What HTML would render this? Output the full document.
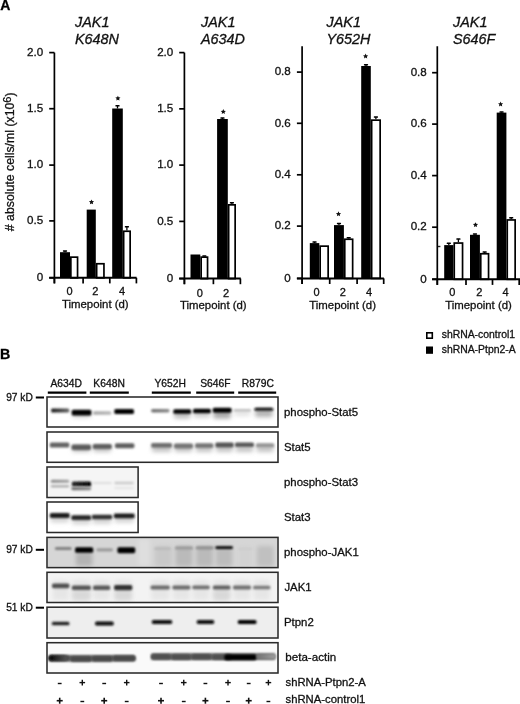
<!DOCTYPE html>
<html><head><meta charset="utf-8"><style>
html,body{margin:0;padding:0;background:#fff;width:520px;height:704px;overflow:hidden}
svg{display:block;font-family:"Liberation Sans", sans-serif;will-change:transform;filter:blur(0.35px)}
</style></head><body>
<svg width="520" height="704" viewBox="0 0 520 704">
<text x="0.3" y="9.9" font-size="14" text-anchor="start" font-weight="bold" fill="#000" stroke="#000" stroke-width="0.3">A</text>
<text x="75" y="27.0" font-size="14.4" text-anchor="start" font-weight="normal" fill="#111" font-style="italic" stroke="#111" stroke-width="0.3">JAK1</text>
<text x="75" y="43.6" font-size="14.4" text-anchor="start" font-weight="normal" fill="#111" font-style="italic" stroke="#111" stroke-width="0.3">K648N</text>
<rect x="60" y="252.2" width="10" height="25.6" fill="#000"/>
<line x1="65" y1="250.9" x2="65" y2="252.2" stroke="#000" stroke-width="1.3"/>
<rect x="62.9" y="250.2" width="4.2" height="1.5" rx="0.5" fill="#000"/>
<rect x="70.85" y="257.15" width="6.7" height="20.65" fill="#fff" stroke="#000" stroke-width="1.7"/>
<rect x="86.7" y="209.6" width="9.1" height="68.2" fill="#000"/>
<rect x="96.65" y="263.75" width="7.3" height="14.05" fill="#fff" stroke="#000" stroke-width="1.7"/>
<rect x="112.2" y="108.5" width="10.6" height="169.3" fill="#000"/>
<line x1="117.5" y1="105.6" x2="117.5" y2="108.5" stroke="#000" stroke-width="1.3"/>
<rect x="115.4" y="104.9" width="4.2" height="1.5" rx="0.5" fill="#000"/>
<rect x="123.65" y="231.25" width="6.5" height="46.55" fill="#fff" stroke="#000" stroke-width="1.7"/>
<line x1="126.9" y1="226.8" x2="126.9" y2="230.4" stroke="#000" stroke-width="1.3"/>
<rect x="124.80000000000001" y="226.1" width="4.2" height="1.5" rx="0.5" fill="#000"/>
<line x1="54.4" y1="52.6" x2="54.4" y2="283.4" stroke="#000" stroke-width="1.7"/>
<line x1="49.2" y1="277.8" x2="136.6" y2="277.8" stroke="#000" stroke-width="2.0"/>
<line x1="49.2" y1="277.8" x2="54.4" y2="277.8" stroke="#000" stroke-width="1.7"/>
<text x="43.2" y="281.0" font-size="11.6" text-anchor="end" font-weight="normal" fill="#111" stroke="#111" stroke-width="0.3">0</text>
<line x1="49.2" y1="220.9" x2="54.4" y2="220.9" stroke="#000" stroke-width="1.7"/>
<text x="43.2" y="224.1" font-size="11.6" text-anchor="end" font-weight="normal" fill="#111" stroke="#111" stroke-width="0.3">0.5</text>
<line x1="49.2" y1="165.1" x2="54.4" y2="165.1" stroke="#000" stroke-width="1.7"/>
<text x="43.2" y="168.29999999999998" font-size="11.6" text-anchor="end" font-weight="normal" fill="#111" stroke="#111" stroke-width="0.3">1.0</text>
<line x1="49.2" y1="108.7" x2="54.4" y2="108.7" stroke="#000" stroke-width="1.7"/>
<text x="43.2" y="111.9" font-size="11.6" text-anchor="end" font-weight="normal" fill="#111" stroke="#111" stroke-width="0.3">1.5</text>
<line x1="49.2" y1="52.6" x2="54.4" y2="52.6" stroke="#000" stroke-width="1.7"/>
<text x="43.2" y="55.800000000000004" font-size="11.6" text-anchor="end" font-weight="normal" fill="#111" stroke="#111" stroke-width="0.3">2.0</text>
<line x1="54.4" y1="277.8" x2="54.4" y2="283.4" stroke="#000" stroke-width="1.7"/>
<line x1="83.1" y1="277.8" x2="83.1" y2="283.4" stroke="#000" stroke-width="1.7"/>
<line x1="109.8" y1="277.8" x2="109.8" y2="283.4" stroke="#000" stroke-width="1.7"/>
<line x1="136.4" y1="277.8" x2="136.4" y2="283.4" stroke="#000" stroke-width="1.7"/>
<text x="69.6" y="295.1" font-size="11" text-anchor="middle" font-weight="normal" fill="#111" stroke="#111" stroke-width="0.3">0</text>
<text x="95.4" y="295.1" font-size="11" text-anchor="middle" font-weight="normal" fill="#111" stroke="#111" stroke-width="0.3">2</text>
<text x="122" y="295.1" font-size="11" text-anchor="middle" font-weight="normal" fill="#111" stroke="#111" stroke-width="0.3">4</text>
<text x="95.3" y="307.8" font-size="11.4" text-anchor="middle" font-weight="normal" fill="#111" stroke="#111" stroke-width="0.3">Timepoint (d)</text>
<polygon points="91.50,199.40 92.26,201.05 94.07,201.27 92.74,202.50 93.09,204.28 91.50,203.40 89.91,204.28 90.26,202.50 88.93,201.27 90.74,201.05" fill="#111"/>
<polygon points="117.90,95.70 118.66,97.35 120.47,97.57 119.14,98.80 119.49,100.58 117.90,99.70 116.31,100.58 116.66,98.80 115.33,97.57 117.14,97.35" fill="#111"/>
<text x="201" y="27.0" font-size="14.4" text-anchor="start" font-weight="normal" fill="#111" font-style="italic" stroke="#111" stroke-width="0.3">JAK1</text>
<text x="201" y="43.6" font-size="14.4" text-anchor="start" font-weight="normal" fill="#111" font-style="italic" stroke="#111" stroke-width="0.3">A634D</text>
<rect x="190.5" y="254.5" width="9.8" height="24.1" fill="#000"/>
<rect x="201.15" y="257.15" width="6.4" height="21.45" fill="#fff" stroke="#000" stroke-width="1.7"/>
<line x1="204.35" y1="255.9" x2="204.35" y2="256.3" stroke="#000" stroke-width="1.3"/>
<rect x="202.25000000000003" y="255.2" width="4.2" height="1.5" rx="0.5" fill="#000"/>
<rect x="217.1" y="119" width="10.7" height="159.6" fill="#000"/>
<line x1="222.45" y1="118" x2="222.45" y2="119" stroke="#000" stroke-width="1.3"/>
<rect x="220.35" y="117.3" width="4.2" height="1.5" rx="0.5" fill="#000"/>
<rect x="228.65" y="204.85" width="6.5" height="73.75" fill="#fff" stroke="#000" stroke-width="1.7"/>
<line x1="231.9" y1="202.7" x2="231.9" y2="204" stroke="#000" stroke-width="1.3"/>
<rect x="229.8" y="202" width="4.2" height="1.5" rx="0.5" fill="#000"/>
<line x1="184.4" y1="52.6" x2="184.4" y2="284.2" stroke="#000" stroke-width="1.7"/>
<line x1="179.2" y1="278.6" x2="240.8" y2="278.6" stroke="#000" stroke-width="2.0"/>
<line x1="179.2" y1="278.6" x2="184.4" y2="278.6" stroke="#000" stroke-width="1.7"/>
<text x="173.3" y="281.8" font-size="11.6" text-anchor="end" font-weight="normal" fill="#111" stroke="#111" stroke-width="0.3">0</text>
<line x1="179.2" y1="221.4" x2="184.4" y2="221.4" stroke="#000" stroke-width="1.7"/>
<text x="173.3" y="224.6" font-size="11.6" text-anchor="end" font-weight="normal" fill="#111" stroke="#111" stroke-width="0.3">0.5</text>
<line x1="179.2" y1="165.1" x2="184.4" y2="165.1" stroke="#000" stroke-width="1.7"/>
<text x="173.3" y="168.29999999999998" font-size="11.6" text-anchor="end" font-weight="normal" fill="#111" stroke="#111" stroke-width="0.3">1.0</text>
<line x1="179.2" y1="108.85" x2="184.4" y2="108.85" stroke="#000" stroke-width="1.7"/>
<text x="173.3" y="112.05" font-size="11.6" text-anchor="end" font-weight="normal" fill="#111" stroke="#111" stroke-width="0.3">1.5</text>
<line x1="179.2" y1="52.6" x2="184.4" y2="52.6" stroke="#000" stroke-width="1.7"/>
<text x="173.3" y="55.800000000000004" font-size="11.6" text-anchor="end" font-weight="normal" fill="#111" stroke="#111" stroke-width="0.3">2.0</text>
<line x1="184.4" y1="278.6" x2="184.4" y2="284.2" stroke="#000" stroke-width="1.7"/>
<line x1="213.4" y1="278.6" x2="213.4" y2="284.2" stroke="#000" stroke-width="1.7"/>
<line x1="240.4" y1="278.6" x2="240.4" y2="284.2" stroke="#000" stroke-width="1.7"/>
<text x="199.9" y="296.5" font-size="11" text-anchor="middle" font-weight="normal" fill="#111" stroke="#111" stroke-width="0.3">0</text>
<text x="226.1" y="296.5" font-size="11" text-anchor="middle" font-weight="normal" fill="#111" stroke="#111" stroke-width="0.3">2</text>
<text x="213.3" y="309.3" font-size="11.4" text-anchor="middle" font-weight="normal" fill="#111" stroke="#111" stroke-width="0.3">Timepoint (d)</text>
<polygon points="223.30,109.10 224.06,110.75 225.87,110.97 224.54,112.20 224.89,113.98 223.30,113.10 221.71,113.98 222.06,112.20 220.73,110.97 222.54,110.75" fill="#111"/>
<text x="326.5" y="27.0" font-size="14.4" text-anchor="start" font-weight="normal" fill="#111" font-style="italic" stroke="#111" stroke-width="0.3">JAK1</text>
<text x="326.5" y="43.6" font-size="14.4" text-anchor="start" font-weight="normal" fill="#111" font-style="italic" stroke="#111" stroke-width="0.3">Y652H</text>
<rect x="309.8" y="243.1" width="9.5" height="35.3" fill="#000"/>
<line x1="314.55" y1="241.9" x2="314.55" y2="243.1" stroke="#000" stroke-width="1.3"/>
<rect x="312.45" y="241.2" width="4.2" height="1.5" rx="0.5" fill="#000"/>
<rect x="320.15" y="246.15" width="8" height="32.25" fill="#fff" stroke="#000" stroke-width="1.7"/>
<rect x="334" y="225.1" width="9.9" height="53.3" fill="#000"/>
<line x1="338.95" y1="223.5" x2="338.95" y2="225.1" stroke="#000" stroke-width="1.3"/>
<rect x="336.84999999999997" y="222.8" width="4.2" height="1.5" rx="0.5" fill="#000"/>
<rect x="344.75" y="239.25" width="7.9" height="39.15" fill="#fff" stroke="#000" stroke-width="1.7"/>
<line x1="348.7" y1="237.7" x2="348.7" y2="238.4" stroke="#000" stroke-width="1.3"/>
<rect x="346.59999999999997" y="237" width="4.2" height="1.5" rx="0.5" fill="#000"/>
<rect x="361.2" y="66" width="9.6" height="212.4" fill="#000"/>
<line x1="366" y1="64.7" x2="366" y2="66" stroke="#000" stroke-width="1.3"/>
<rect x="363.9" y="64" width="4.2" height="1.5" rx="0.5" fill="#000"/>
<rect x="371.65" y="120.15" width="8.5" height="158.25" fill="#fff" stroke="#000" stroke-width="1.7"/>
<line x1="375.9" y1="116.9" x2="375.9" y2="119.3" stroke="#000" stroke-width="1.3"/>
<rect x="373.79999999999995" y="116.2" width="4.2" height="1.5" rx="0.5" fill="#000"/>
<line x1="302.1" y1="46.2" x2="302.1" y2="284" stroke="#000" stroke-width="1.7"/>
<line x1="296.9" y1="278.4" x2="383.9" y2="278.4" stroke="#000" stroke-width="2.0"/>
<line x1="296.9" y1="278.4" x2="302.1" y2="278.4" stroke="#000" stroke-width="1.7"/>
<text x="290.8" y="281.59999999999997" font-size="11.6" text-anchor="end" font-weight="normal" fill="#111" stroke="#111" stroke-width="0.3">0</text>
<line x1="296.9" y1="226.1" x2="302.1" y2="226.1" stroke="#000" stroke-width="1.7"/>
<text x="290.8" y="229.29999999999998" font-size="11.6" text-anchor="end" font-weight="normal" fill="#111" stroke="#111" stroke-width="0.3">0.2</text>
<line x1="296.9" y1="174.8" x2="302.1" y2="174.8" stroke="#000" stroke-width="1.7"/>
<text x="290.8" y="178.0" font-size="11.6" text-anchor="end" font-weight="normal" fill="#111" stroke="#111" stroke-width="0.3">0.4</text>
<line x1="296.9" y1="123.3" x2="302.1" y2="123.3" stroke="#000" stroke-width="1.7"/>
<text x="290.8" y="126.5" font-size="11.6" text-anchor="end" font-weight="normal" fill="#111" stroke="#111" stroke-width="0.3">0.6</text>
<line x1="296.9" y1="72.1" x2="302.1" y2="72.1" stroke="#000" stroke-width="1.7"/>
<text x="290.8" y="75.3" font-size="11.6" text-anchor="end" font-weight="normal" fill="#111" stroke="#111" stroke-width="0.3">0.8</text>
<line x1="302.1" y1="278.4" x2="302.1" y2="284" stroke="#000" stroke-width="1.7"/>
<line x1="329.7" y1="278.4" x2="329.7" y2="284" stroke="#000" stroke-width="1.7"/>
<line x1="357.1" y1="278.4" x2="357.1" y2="284" stroke="#000" stroke-width="1.7"/>
<line x1="383.7" y1="278.4" x2="383.7" y2="284" stroke="#000" stroke-width="1.7"/>
<text x="316.6" y="295.8" font-size="11" text-anchor="middle" font-weight="normal" fill="#111" stroke="#111" stroke-width="0.3">0</text>
<text x="342.9" y="295.8" font-size="11" text-anchor="middle" font-weight="normal" fill="#111" stroke="#111" stroke-width="0.3">2</text>
<text x="369" y="295.8" font-size="11" text-anchor="middle" font-weight="normal" fill="#111" stroke="#111" stroke-width="0.3">4</text>
<text x="342.6" y="308.6" font-size="11.4" text-anchor="middle" font-weight="normal" fill="#111" stroke="#111" stroke-width="0.3">Timepoint (d)</text>
<polygon points="338.50,211.30 339.26,212.95 341.07,213.17 339.74,214.40 340.09,216.18 338.50,215.30 336.91,216.18 337.26,214.40 335.93,213.17 337.74,212.95" fill="#111"/>
<polygon points="365.60,53.60 366.36,55.25 368.17,55.47 366.84,56.70 367.19,58.48 365.60,57.60 364.01,58.48 364.36,56.70 363.03,55.47 364.84,55.25" fill="#111"/>
<text x="453" y="27.0" font-size="14.4" text-anchor="start" font-weight="normal" fill="#111" font-style="italic" stroke="#111" stroke-width="0.3">JAK1</text>
<text x="453" y="43.6" font-size="14.4" text-anchor="start" font-weight="normal" fill="#111" font-style="italic" stroke="#111" stroke-width="0.3">S646F</text>
<rect x="444.2" y="245.1" width="9.2" height="34.2" fill="#000"/>
<line x1="448.8" y1="243.3" x2="448.8" y2="245.1" stroke="#000" stroke-width="1.3"/>
<rect x="446.69999999999993" y="242.6" width="4.2" height="1.5" rx="0.5" fill="#000"/>
<rect x="454.25" y="243.05" width="8.3" height="36.25" fill="#fff" stroke="#000" stroke-width="1.7"/>
<line x1="458.4" y1="239" x2="458.4" y2="242.2" stroke="#000" stroke-width="1.3"/>
<rect x="456.29999999999995" y="238.3" width="4.2" height="1.5" rx="0.5" fill="#000"/>
<rect x="470" y="234.8" width="9.9" height="44.5" fill="#000"/>
<line x1="474.95" y1="233.9" x2="474.95" y2="234.8" stroke="#000" stroke-width="1.3"/>
<rect x="472.84999999999997" y="233.2" width="4.2" height="1.5" rx="0.5" fill="#000"/>
<rect x="480.75" y="253.75" width="7.8" height="25.55" fill="#fff" stroke="#000" stroke-width="1.7"/>
<line x1="484.65" y1="251.9" x2="484.65" y2="252.9" stroke="#000" stroke-width="1.3"/>
<rect x="482.54999999999995" y="251.2" width="4.2" height="1.5" rx="0.5" fill="#000"/>
<rect x="496.7" y="112.6" width="9.7" height="166.7" fill="#000"/>
<line x1="501.55" y1="111.9" x2="501.55" y2="112.6" stroke="#000" stroke-width="1.3"/>
<rect x="499.44999999999993" y="111.2" width="4.2" height="1.5" rx="0.5" fill="#000"/>
<rect x="507.25" y="219.95" width="7.9" height="59.35" fill="#fff" stroke="#000" stroke-width="1.7"/>
<line x1="511.2" y1="217.8" x2="511.2" y2="219.1" stroke="#000" stroke-width="1.3"/>
<rect x="509.09999999999997" y="217.1" width="4.2" height="1.5" rx="0.5" fill="#000"/>
<line x1="437.3" y1="46.25" x2="437.3" y2="284.9" stroke="#000" stroke-width="1.7"/>
<line x1="432.1" y1="279.3" x2="520" y2="279.3" stroke="#000" stroke-width="2.0"/>
<line x1="432.1" y1="279.3" x2="437.3" y2="279.3" stroke="#000" stroke-width="1.7"/>
<text x="426.8" y="282.5" font-size="11.6" text-anchor="end" font-weight="normal" fill="#111" stroke="#111" stroke-width="0.3">0</text>
<line x1="432.1" y1="227.2" x2="437.3" y2="227.2" stroke="#000" stroke-width="1.7"/>
<text x="426.8" y="230.39999999999998" font-size="11.6" text-anchor="end" font-weight="normal" fill="#111" stroke="#111" stroke-width="0.3">0.2</text>
<line x1="432.1" y1="175.6" x2="437.3" y2="175.6" stroke="#000" stroke-width="1.7"/>
<text x="426.8" y="178.79999999999998" font-size="11.6" text-anchor="end" font-weight="normal" fill="#111" stroke="#111" stroke-width="0.3">0.4</text>
<line x1="432.1" y1="124.1" x2="437.3" y2="124.1" stroke="#000" stroke-width="1.7"/>
<text x="426.8" y="127.3" font-size="11.6" text-anchor="end" font-weight="normal" fill="#111" stroke="#111" stroke-width="0.3">0.6</text>
<line x1="432.1" y1="72.7" x2="437.3" y2="72.7" stroke="#000" stroke-width="1.7"/>
<text x="426.8" y="75.9" font-size="11.6" text-anchor="end" font-weight="normal" fill="#111" stroke="#111" stroke-width="0.3">0.8</text>
<line x1="437.3" y1="279.3" x2="437.3" y2="284.9" stroke="#000" stroke-width="1.7"/>
<line x1="466" y1="279.3" x2="466" y2="284.9" stroke="#000" stroke-width="1.7"/>
<line x1="492.5" y1="279.3" x2="492.5" y2="284.9" stroke="#000" stroke-width="1.7"/>
<line x1="519.2" y1="279.3" x2="519.2" y2="284.9" stroke="#000" stroke-width="1.7"/>
<text x="452.3" y="296.0" font-size="11" text-anchor="middle" font-weight="normal" fill="#111" stroke="#111" stroke-width="0.3">0</text>
<text x="479.2" y="296.0" font-size="11" text-anchor="middle" font-weight="normal" fill="#111" stroke="#111" stroke-width="0.3">2</text>
<text x="505.5" y="296.0" font-size="11" text-anchor="middle" font-weight="normal" fill="#111" stroke="#111" stroke-width="0.3">4</text>
<text x="478.5" y="309.1" font-size="11.4" text-anchor="middle" font-weight="normal" fill="#111" stroke="#111" stroke-width="0.3">Timepoint (d)</text>
<polygon points="475.50,222.20 476.26,223.85 478.07,224.07 476.74,225.30 477.09,227.08 475.50,226.20 473.91,227.08 474.26,225.30 472.93,224.07 474.74,223.85" fill="#111"/>
<polygon points="500.60,101.50 501.36,103.15 503.17,103.37 501.84,104.60 502.19,106.38 500.60,105.50 499.01,106.38 499.36,104.60 498.03,103.37 499.84,103.15" fill="#111"/>
<text transform="translate(13.7,161.8) rotate(-90)" font-size="12.3" text-anchor="middle" fill="#111" stroke="#111" stroke-width="0.3"># absolute cells/ml (x10<tspan font-size="11" dy="-3.2">6</tspan><tspan dy="3.2">)</tspan></text>
<line x1="438" y1="246.5" x2="440.4" y2="246.5" stroke="#222" stroke-width="1.4"/>
<rect x="426.8" y="332.8" width="5.5" height="5.4" fill="#fff" stroke="#000" stroke-width="1.6"/>
<rect x="426" y="346.5" width="7" height="7.3" fill="#000"/>
<text x="441.7" y="338.1" font-size="10.4" text-anchor="start" font-weight="normal" fill="#111" stroke="#111" stroke-width="0.3">shRNA-control1</text>
<text x="441.7" y="352.7" font-size="10.4" text-anchor="start" font-weight="normal" fill="#111" stroke="#111" stroke-width="0.3">shRNA-Ptpn2-A</text>
<text x="0.0" y="358.6" font-size="14.3" text-anchor="start" font-weight="bold" fill="#000" stroke="#000" stroke-width="0.3">B</text>
<text x="66.2" y="386.5" font-size="10.3" text-anchor="middle" font-weight="normal" fill="#111" stroke="#111" stroke-width="0.3">A634D</text>
<line x1="47.8" y1="392.6" x2="86.4" y2="392.6" stroke="#000" stroke-width="2.2"/>
<text x="109.1" y="386.5" font-size="10.3" text-anchor="middle" font-weight="normal" fill="#111" stroke="#111" stroke-width="0.3">K648N</text>
<line x1="89.8" y1="392.6" x2="128.8" y2="392.6" stroke="#000" stroke-width="2.2"/>
<text x="170.2" y="386.5" font-size="10.3" text-anchor="middle" font-weight="normal" fill="#111" stroke="#111" stroke-width="0.3">Y652H</text>
<line x1="151.8" y1="392.6" x2="190.8" y2="392.6" stroke="#000" stroke-width="2.2"/>
<text x="215.3" y="386.5" font-size="10.3" text-anchor="middle" font-weight="normal" fill="#111" stroke="#111" stroke-width="0.3">S646F</text>
<line x1="196.2" y1="392.6" x2="234.2" y2="392.6" stroke="#000" stroke-width="2.2"/>
<text x="257.8" y="386.5" font-size="10.3" text-anchor="middle" font-weight="normal" fill="#111" stroke="#111" stroke-width="0.3">R879C</text>
<line x1="238.2" y1="392.6" x2="276.2" y2="392.6" stroke="#000" stroke-width="2.2"/>
<text x="32.8" y="401.1" font-size="10.2" text-anchor="end" font-weight="normal" fill="#111" stroke="#111" stroke-width="0.3">97 kD</text>
<line x1="35.8" y1="397.5" x2="44" y2="397.5" stroke="#000" stroke-width="2"/>
<text x="32.8" y="553.4" font-size="10.2" text-anchor="end" font-weight="normal" fill="#111" stroke="#111" stroke-width="0.3">97 kD</text>
<line x1="35.8" y1="549.8" x2="44" y2="549.8" stroke="#000" stroke-width="2"/>
<text x="32.8" y="611.3000000000001" font-size="10.2" text-anchor="end" font-weight="normal" fill="#111" stroke="#111" stroke-width="0.3">51 kD</text>
<line x1="35.8" y1="607.7" x2="44" y2="607.7" stroke="#000" stroke-width="2"/>
<defs><filter id="b1" x="-30%" y="-100%" width="160%" height="300%"><feGaussianBlur stdDeviation="1.3 1.0"/></filter><filter id="b2" x="-30%" y="-100%" width="160%" height="300%"><feGaussianBlur stdDeviation="2"/></filter><filter id="b3" x="-30%" y="-100%" width="160%" height="300%"><feGaussianBlur stdDeviation="3"/></filter></defs>
<rect x="47.7" y="397.7" width="229.6" height="28.6" fill="#fff"/>
<rect x="47.7" y="432.7" width="229.6" height="28.9" fill="#fff"/>
<rect x="47.7" y="467.7" width="89.7" height="29.1" fill="#f5f5f5"/>
<rect x="47.7" y="502.7" width="89.7" height="29.1" fill="#fff"/>
<rect x="47.7" y="538.1" width="229.6" height="28.8" fill="#d6d6d6"/>
<rect x="47.7" y="573" width="229.6" height="28.8" fill="#f3f3f3"/>
<rect x="47.7" y="607.9" width="229.6" height="29.4" fill="#eeeeee"/>
<rect x="47.7" y="643.4" width="229.6" height="28.9" fill="#fafafa"/>
<rect x="72.4" y="412" width="18.299999999999997" height="6" rx="2" fill="#d8d8d8" filter="url(#b2)"/>
<rect x="174" y="412" width="16.5" height="6.5" rx="2" fill="#bdbdbd" filter="url(#b2)"/>
<rect x="193.7" y="412" width="16.5" height="5.5" rx="2" fill="#cfcfcf" filter="url(#b2)"/>
<rect x="213.4" y="411" width="17.5" height="7.5" rx="2" fill="#a8a8a8" filter="url(#b2)"/>
<rect x="234.2" y="411" width="16.200000000000017" height="5" rx="2" fill="#e2e2e2" filter="url(#b2)"/>
<rect x="255.1" y="409.5" width="17.50000000000003" height="7.5" rx="2" fill="#b3b3b3" filter="url(#b2)"/>
<linearGradient id="g1" x1="0" x2="1" y1="0" y2="0"><stop offset="0" stop-color="#1a1a1a"/><stop offset="1" stop-color="#666"/></linearGradient>
<rect x="51.10" y="408.50" width="18.20" height="4.0" rx="1.6" fill="url(#g1)" opacity="1" filter="url(#b1)"/>
<rect x="71.70" y="409.70" width="19.70" height="5.8" rx="1.6" fill="#000" opacity="1" filter="url(#b1)"/>
<linearGradient id="g2" x1="0" x2="1" y1="0" y2="0"><stop offset="0" stop-color="#a8a8a8"/><stop offset="1" stop-color="#b8b8b8"/></linearGradient>
<rect x="93.10" y="411.20" width="18.30" height="3.6" rx="1.6" fill="url(#g2)" opacity="1" filter="url(#b1)"/>
<rect x="114.30" y="408.90" width="19.70" height="5.2" rx="1.6" fill="#000" opacity="1" filter="url(#b1)"/>
<linearGradient id="g3" x1="0" x2="1" y1="0" y2="0"><stop offset="0" stop-color="#707070"/><stop offset="1" stop-color="#8a8a8a"/></linearGradient>
<rect x="151.10" y="409.00" width="18.50" height="3.4" rx="1.6" fill="url(#g3)" opacity="1" filter="url(#b1)"/>
<rect x="173.30" y="409.20" width="17.90" height="4.6" rx="1.6" fill="#000" opacity="1" filter="url(#b1)"/>
<rect x="193.00" y="408.70" width="17.90" height="4.6" rx="1.6" fill="#000" opacity="1" filter="url(#b1)"/>
<rect x="212.70" y="407.70" width="18.90" height="5" rx="1.6" fill="#000" opacity="1" filter="url(#b1)"/>
<rect x="233.50" y="409.20" width="17.60" height="2.4" rx="1.2" fill="#b8b8b8" opacity="1" filter="url(#b1)"/>
<rect x="254.40" y="407.70" width="18.90" height="3" rx="1.5" fill="#0a0a0a" opacity="1" filter="url(#b1)"/>
<rect x="72.2" y="446" width="18.099999999999994" height="6" rx="2" fill="#c4c4c4" filter="url(#b2)"/>
<rect x="93.4" y="446" width="17.69999999999999" height="6" rx="2" fill="#c4c4c4" filter="url(#b2)"/>
<rect x="174.6" y="446" width="17.80000000000001" height="6" rx="2" fill="#c4c4c4" filter="url(#b2)"/>
<rect x="195.7" y="446" width="17.0" height="6" rx="2" fill="#c4c4c4" filter="url(#b2)"/>
<rect x="216" y="446" width="17" height="6" rx="2" fill="#c4c4c4" filter="url(#b2)"/>
<rect x="235.6" y="446" width="17.700000000000017" height="6" rx="2" fill="#c4c4c4" filter="url(#b2)"/>
<rect x="151.8" y="446" width="19.599999999999994" height="6" rx="2" fill="#c4c4c4" filter="url(#b2)"/>
<rect x="256.6" y="446" width="17.0" height="6" rx="2" fill="#c4c4c4" filter="url(#b2)"/>
<rect x="49.80" y="442.50" width="19.50" height="5" rx="1.6" fill="#626262" opacity="1" filter="url(#b1)"/>
<rect x="71.50" y="444.50" width="19.50" height="5.4" rx="1.6" fill="#5a5a5a" opacity="1" filter="url(#b1)"/>
<rect x="92.70" y="443.90" width="19.10" height="5.2" rx="1.6" fill="#5e5e5e" opacity="1" filter="url(#b1)"/>
<rect x="114.90" y="443.20" width="19.50" height="5" rx="1.6" fill="#5e5e5e" opacity="1" filter="url(#b1)"/>
<rect x="151.10" y="443.10" width="21.00" height="4.6" rx="1.6" fill="#6e6e6e" opacity="1" filter="url(#b1)"/>
<rect x="173.90" y="443.60" width="19.20" height="4.8" rx="1.6" fill="#747474" opacity="1" filter="url(#b1)"/>
<rect x="195.00" y="443.30" width="18.40" height="4.6" rx="1.6" fill="#767676" opacity="1" filter="url(#b1)"/>
<rect x="215.30" y="442.60" width="18.40" height="4.8" rx="1.6" fill="#555" opacity="1" filter="url(#b1)"/>
<rect x="234.90" y="442.60" width="19.10" height="4.4" rx="1.6" fill="#585858" opacity="1" filter="url(#b1)"/>
<rect x="255.90" y="443.30" width="18.40" height="4.2" rx="1.6" fill="#959595" opacity="1" filter="url(#b1)"/>
<linearGradient id="g4" x1="0" x2="1" y1="0" y2="0"><stop offset="0" stop-color="#8a8a8a"/><stop offset="1" stop-color="#a4a4a4"/></linearGradient>
<rect x="50.80" y="479.70" width="18.40" height="3" rx="1.5" fill="url(#g4)" opacity="1" filter="url(#b1)"/>
<rect x="50.80" y="484.90" width="18.40" height="2.6" rx="1.3" fill="#b0b0b0" opacity="1" filter="url(#b1)"/>
<linearGradient id="g5" x1="0" x2="1" y1="0" y2="0"><stop offset="0" stop-color="#2a2a2a"/><stop offset="1" stop-color="#000"/></linearGradient>
<rect x="71.80" y="481.50" width="19.40" height="5.0" rx="1.6" fill="url(#g5)" opacity="1" filter="url(#b1)"/>
<linearGradient id="g6" x1="0" x2="1" y1="0" y2="0"><stop offset="0" stop-color="#6e6e6e"/><stop offset="1" stop-color="#8a8a8a"/></linearGradient>
<rect x="71.30" y="487.00" width="19.90" height="3.2" rx="1.6" fill="url(#g6)" opacity="1" filter="url(#b1)"/>
<rect x="92.30" y="481.90" width="19.40" height="2.2" rx="1.1" fill="#dedede" opacity="1" filter="url(#b1)"/>
<rect x="114.30" y="481.70" width="19.40" height="2.6" rx="1.3" fill="#cacaca" opacity="1" filter="url(#b1)"/>
<rect x="114.30" y="487.00" width="19.40" height="2" rx="1.0" fill="#e4e4e4" opacity="1" filter="url(#b1)"/>
<rect x="50.5" y="515.5" width="18.5" height="7.0" rx="2" fill="#d6d6d6" filter="url(#b2)"/>
<rect x="72" y="517.6" width="18.5" height="7.0" rx="2" fill="#d6d6d6" filter="url(#b2)"/>
<rect x="92.5" y="517" width="19.0" height="7" rx="2" fill="#d6d6d6" filter="url(#b2)"/>
<rect x="114.5" y="515.8" width="19.5" height="7.0" rx="2" fill="#d6d6d6" filter="url(#b2)"/>
<rect x="49.80" y="513.10" width="19.90" height="4.8" rx="1.6" fill="#1e1e1e" opacity="1" filter="url(#b1)"/>
<rect x="71.30" y="515.30" width="19.90" height="4.6" rx="1.6" fill="#262626" opacity="1" filter="url(#b1)"/>
<rect x="91.80" y="514.80" width="20.40" height="4.4" rx="1.6" fill="#2e2e2e" opacity="1" filter="url(#b1)"/>
<rect x="113.80" y="513.40" width="20.90" height="4.8" rx="1.6" fill="#1e1e1e" opacity="1" filter="url(#b1)"/>
<rect x="138" y="539" width="12" height="27" rx="2" fill="#dedede" filter="url(#b2)"/>
<rect x="75.8" y="552" width="16.700000000000003" height="14" rx="2" fill="#b4b4b4" filter="url(#b2)"/>
<rect x="155" y="546" width="16.80000000000001" height="20.5" rx="2" fill="#c8c8c8" filter="url(#b2)"/>
<rect x="175.6" y="546" width="16.80000000000001" height="20.5" rx="2" fill="#bababa" filter="url(#b2)"/>
<rect x="196.3" y="546" width="16.69999999999999" height="20.5" rx="2" fill="#bababa" filter="url(#b2)"/>
<rect x="216" y="546" width="16.30000000000001" height="20.5" rx="2" fill="#bcbcbc" filter="url(#b2)"/>
<rect x="238.8" y="546" width="12.899999999999977" height="20.5" rx="2" fill="#d2d2d2" filter="url(#b2)"/>
<rect x="256.8" y="546" width="16.80000000000001" height="20.5" rx="2" fill="#c0c0c0" filter="url(#b2)"/>
<rect x="54.90" y="547.00" width="16.80" height="3" rx="1.5" fill="#808080" opacity="1" filter="url(#b1)"/>
<rect x="75.10" y="547.20" width="18.10" height="5.6" rx="1.6" fill="#000" opacity="1" filter="url(#b1)"/>
<rect x="96.30" y="548.20" width="16.70" height="3.2" rx="1.6" fill="#9a9a9a" opacity="1" filter="url(#b1)"/>
<rect x="117.40" y="547.20" width="17.80" height="6" rx="1.6" fill="#000" opacity="1" filter="url(#b1)"/>
<rect x="154.30" y="547.40" width="16.40" height="2.4" rx="1.2" fill="#b8b8b8" opacity="1" filter="url(#b1)"/>
<rect x="174.90" y="546.50" width="18.20" height="3" rx="1.5" fill="#9a9a9a" opacity="1" filter="url(#b1)"/>
<rect x="195.60" y="546.20" width="18.10" height="3.2" rx="1.6" fill="#929292" opacity="1" filter="url(#b1)"/>
<rect x="215.30" y="546.20" width="17.70" height="2.8" rx="1.4" fill="#000" opacity="1" filter="url(#b1)"/>
<rect x="238.10" y="548.00" width="14.30" height="2" rx="1.0" fill="#cccccc" opacity="1" filter="url(#b1)"/>
<rect x="52.7" y="580" width="16.0" height="20" rx="2" fill="#e6e6e6" filter="url(#b2)"/>
<rect x="72.5" y="580" width="17.700000000000003" height="20" rx="2" fill="#e6e6e6" filter="url(#b2)"/>
<rect x="93.7" y="580" width="15.799999999999997" height="20" rx="2" fill="#e6e6e6" filter="url(#b2)"/>
<rect x="114.8" y="580" width="16.799999999999997" height="20" rx="2" fill="#e6e6e6" filter="url(#b2)"/>
<rect x="151.2" y="580" width="18.0" height="20" rx="2" fill="#e6e6e6" filter="url(#b2)"/>
<rect x="173" y="580" width="16.80000000000001" height="20" rx="2" fill="#e6e6e6" filter="url(#b2)"/>
<rect x="192.9" y="580" width="16.19999999999999" height="20" rx="2" fill="#e6e6e6" filter="url(#b2)"/>
<rect x="213.5" y="580" width="16.30000000000001" height="20" rx="2" fill="#e6e6e6" filter="url(#b2)"/>
<rect x="233.6" y="580" width="16.80000000000001" height="20" rx="2" fill="#e6e6e6" filter="url(#b2)"/>
<rect x="253.7" y="580" width="16.0" height="20" rx="2" fill="#e6e6e6" filter="url(#b2)"/>
<rect x="72.5" y="590" width="17.700000000000003" height="10" rx="2" fill="#d8d8d8" filter="url(#b2)"/>
<rect x="114.8" y="590" width="16.799999999999997" height="10" rx="2" fill="#d8d8d8" filter="url(#b2)"/>
<rect x="213.5" y="590" width="16.30000000000001" height="10" rx="2" fill="#d8d8d8" filter="url(#b2)"/>
<rect x="52.00" y="583.60" width="17.40" height="4.6" rx="1.6" fill="#505050" opacity="1" filter="url(#b1)"/>
<rect x="71.80" y="585.50" width="19.10" height="4.6" rx="1.6" fill="#555" opacity="1" filter="url(#b1)"/>
<rect x="93.00" y="585.50" width="17.20" height="4.6" rx="1.6" fill="#585858" opacity="1" filter="url(#b1)"/>
<rect x="114.10" y="585.00" width="18.20" height="5.2" rx="1.6" fill="#333" opacity="1" filter="url(#b1)"/>
<rect x="150.50" y="585.60" width="19.40" height="3.8" rx="1.6" fill="#6a6a6a" opacity="1" filter="url(#b1)"/>
<rect x="172.30" y="585.60" width="18.20" height="3.8" rx="1.6" fill="#6a6a6a" opacity="1" filter="url(#b1)"/>
<rect x="192.20" y="585.40" width="17.60" height="3.8" rx="1.6" fill="#6e6e6e" opacity="1" filter="url(#b1)"/>
<rect x="212.80" y="585.50" width="17.70" height="4" rx="1.6" fill="#606060" opacity="1" filter="url(#b1)"/>
<rect x="232.90" y="585.60" width="18.20" height="3.8" rx="1.6" fill="#6e6e6e" opacity="1" filter="url(#b1)"/>
<rect x="253.00" y="585.70" width="17.40" height="3.6" rx="1.6" fill="#7a7a7a" opacity="1" filter="url(#b1)"/>
<rect x="51.80" y="621.70" width="17.70" height="3.6" rx="1.6" fill="#222" opacity="1" filter="url(#b1)"/>
<rect x="95.10" y="621.50" width="18.60" height="4" rx="1.6" fill="#080808" opacity="1" filter="url(#b1)"/>
<rect x="151.80" y="620.10" width="20.40" height="3.8" rx="1.6" fill="#080808" opacity="1" filter="url(#b1)"/>
<rect x="196.70" y="620.10" width="17.50" height="3.8" rx="1.6" fill="#080808" opacity="1" filter="url(#b1)"/>
<rect x="237.80" y="620.00" width="18.70" height="4" rx="1.6" fill="#000" opacity="1" filter="url(#b1)"/>
<rect x="48.80" y="654.90" width="86.70" height="6.6" rx="2" fill="#6a6a6a" opacity="1" filter="url(#b1)"/>
<rect x="48.80" y="655.40" width="20.90" height="5.6" rx="2.5" fill="#4a4a4a" opacity="1" filter="url(#b1)"/>
<rect x="70.30" y="656.20" width="21.40" height="5.6" rx="2.5" fill="#4a4a4a" opacity="1" filter="url(#b1)"/>
<rect x="91.80" y="656.00" width="20.90" height="5.6" rx="2.5" fill="#4a4a4a" opacity="1" filter="url(#b1)"/>
<rect x="112.80" y="655.40" width="22.70" height="5.6" rx="2.5" fill="#4a4a4a" opacity="1" filter="url(#b1)"/>
<linearGradient id="g7" x1="0" x2="1" y1="0" y2="0"><stop offset="0" stop-color="#000"/><stop offset="1" stop-color="#555"/></linearGradient>
<rect x="48.80" y="655.20" width="17.90" height="5.6" rx="2.5" fill="url(#g7)" opacity="1" filter="url(#b1)"/>
<rect x="151.00" y="653.30" width="124.60" height="6.6" rx="2" fill="#6e6e6e" opacity="1" filter="url(#b1)"/>
<rect x="151.00" y="654.00" width="20.20" height="5.6" rx="2.5" fill="#505050" opacity="1" filter="url(#b1)"/>
<rect x="171.30" y="654.20" width="19.90" height="5.6" rx="2.5" fill="#505050" opacity="1" filter="url(#b1)"/>
<rect x="191.30" y="654.00" width="20.40" height="5.6" rx="2.5" fill="#505050" opacity="1" filter="url(#b1)"/>
<rect x="211.80" y="654.20" width="19.90" height="5.6" rx="2.5" fill="#505050" opacity="1" filter="url(#b1)"/>
<rect x="224.30" y="654.20" width="32.40" height="6" rx="2.5" fill="#000" opacity="1" filter="url(#b1)"/>
<linearGradient id="g8" x1="0" x2="1" y1="0" y2="0"><stop offset="0" stop-color="#707070"/><stop offset="1" stop-color="#a0a0a0"/></linearGradient>
<rect x="256.30" y="653.90" width="19.30" height="5" rx="2.5" fill="url(#g8)" opacity="1" filter="url(#b1)"/>
<rect x="47.0" y="397" width="231.0" height="30" fill="none" stroke="#2a2a2a" stroke-width="1.55"/>
<rect x="47.0" y="432" width="231.0" height="30.30000000000001" fill="none" stroke="#2a2a2a" stroke-width="1.55"/>
<rect x="47.0" y="467" width="91.1" height="30.5" fill="none" stroke="#2a2a2a" stroke-width="1.55"/>
<rect x="47.0" y="502" width="91.1" height="30.5" fill="none" stroke="#2a2a2a" stroke-width="1.55"/>
<rect x="47.0" y="537.4" width="231.0" height="30.200000000000045" fill="none" stroke="#2a2a2a" stroke-width="1.55"/>
<rect x="47.0" y="572.3" width="231.0" height="30.200000000000045" fill="none" stroke="#2a2a2a" stroke-width="1.55"/>
<rect x="47.0" y="607.2" width="231.0" height="30.799999999999955" fill="none" stroke="#2a2a2a" stroke-width="1.55"/>
<rect x="47.0" y="642.7" width="231.0" height="30.299999999999955" fill="none" stroke="#2a2a2a" stroke-width="1.55"/>
<text x="284" y="415.75" font-size="11.4" text-anchor="start" font-weight="normal" fill="#111" stroke="#111" stroke-width="0.3">phospho-Stat5</text>
<text x="284" y="450.5" font-size="11.4" text-anchor="start" font-weight="normal" fill="#111" stroke="#111" stroke-width="0.3">Stat5</text>
<text x="284" y="485.75" font-size="11.4" text-anchor="start" font-weight="normal" fill="#111" stroke="#111" stroke-width="0.3">phospho-Stat3</text>
<text x="284" y="520.75" font-size="11.4" text-anchor="start" font-weight="normal" fill="#111" stroke="#111" stroke-width="0.3">Stat3</text>
<text x="284" y="556.25" font-size="11.4" text-anchor="start" font-weight="normal" fill="#111" stroke="#111" stroke-width="0.3">phospho-JAK1</text>
<text x="284.4" y="591.25" font-size="11.4" text-anchor="start" font-weight="normal" fill="#111" stroke="#111" stroke-width="0.3">JAK1</text>
<text x="284" y="626.25" font-size="11.4" text-anchor="start" font-weight="normal" fill="#111" stroke="#111" stroke-width="0.3">Ptpn2</text>
<text x="285.3" y="660.75" font-size="11.6" text-anchor="start" font-weight="normal" fill="#111" stroke="#111" stroke-width="0.3">beta-actin</text>
<line x1="57.8" y1="683.5" x2="61.6" y2="683.5" stroke="#111" stroke-width="1.4"/>
<line x1="56.7" y1="700.7" x2="62.7" y2="700.7" stroke="#111" stroke-width="1.6"/>
<line x1="59.7" y1="697.7" x2="59.7" y2="703.7" stroke="#111" stroke-width="1.6"/>
<line x1="79.5" y1="682.6" x2="85.1" y2="682.6" stroke="#111" stroke-width="1.4"/>
<line x1="82.3" y1="679.8" x2="82.3" y2="685.4" stroke="#111" stroke-width="1.4"/>
<line x1="80.4" y1="701.5" x2="84.2" y2="701.5" stroke="#111" stroke-width="1.4"/>
<line x1="102.3" y1="683.5" x2="106.1" y2="683.5" stroke="#111" stroke-width="1.4"/>
<line x1="101.2" y1="700.7" x2="107.2" y2="700.7" stroke="#111" stroke-width="1.6"/>
<line x1="104.2" y1="697.7" x2="104.2" y2="703.7" stroke="#111" stroke-width="1.6"/>
<line x1="123.9" y1="682.6" x2="129.5" y2="682.6" stroke="#111" stroke-width="1.4"/>
<line x1="126.7" y1="679.8" x2="126.7" y2="685.4" stroke="#111" stroke-width="1.4"/>
<line x1="124.8" y1="701.5" x2="128.6" y2="701.5" stroke="#111" stroke-width="1.4"/>
<line x1="159.1" y1="683.5" x2="162.9" y2="683.5" stroke="#111" stroke-width="1.4"/>
<line x1="158" y1="700.7" x2="164" y2="700.7" stroke="#111" stroke-width="1.6"/>
<line x1="161" y1="697.7" x2="161" y2="703.7" stroke="#111" stroke-width="1.6"/>
<line x1="180.95" y1="682.6" x2="186.55" y2="682.6" stroke="#111" stroke-width="1.4"/>
<line x1="183.75" y1="679.8" x2="183.75" y2="685.4" stroke="#111" stroke-width="1.4"/>
<line x1="181.85" y1="701.5" x2="185.65" y2="701.5" stroke="#111" stroke-width="1.4"/>
<line x1="203.5" y1="683.5" x2="207.3" y2="683.5" stroke="#111" stroke-width="1.4"/>
<line x1="202.4" y1="700.7" x2="208.4" y2="700.7" stroke="#111" stroke-width="1.6"/>
<line x1="205.4" y1="697.7" x2="205.4" y2="703.7" stroke="#111" stroke-width="1.6"/>
<line x1="225.2" y1="682.6" x2="230.8" y2="682.6" stroke="#111" stroke-width="1.4"/>
<line x1="228" y1="679.8" x2="228" y2="685.4" stroke="#111" stroke-width="1.4"/>
<line x1="226.1" y1="701.5" x2="229.9" y2="701.5" stroke="#111" stroke-width="1.4"/>
<line x1="246.8" y1="683.5" x2="250.6" y2="683.5" stroke="#111" stroke-width="1.4"/>
<line x1="245.7" y1="700.7" x2="251.7" y2="700.7" stroke="#111" stroke-width="1.6"/>
<line x1="248.7" y1="697.7" x2="248.7" y2="703.7" stroke="#111" stroke-width="1.6"/>
<line x1="265.6" y1="682.6" x2="271.2" y2="682.6" stroke="#111" stroke-width="1.4"/>
<line x1="268.4" y1="679.8" x2="268.4" y2="685.4" stroke="#111" stroke-width="1.4"/>
<line x1="266.5" y1="701.5" x2="270.3" y2="701.5" stroke="#111" stroke-width="1.4"/>
<text x="285.5" y="686.3" font-size="11.3" text-anchor="start" font-weight="normal" fill="#111" stroke="#111" stroke-width="0.3">shRNA-Ptpn2-A</text>
<text x="285.5" y="703.3" font-size="11.3" text-anchor="start" font-weight="normal" fill="#111" stroke="#111" stroke-width="0.3">shRNA-control1</text>
</svg>
</body></html>
